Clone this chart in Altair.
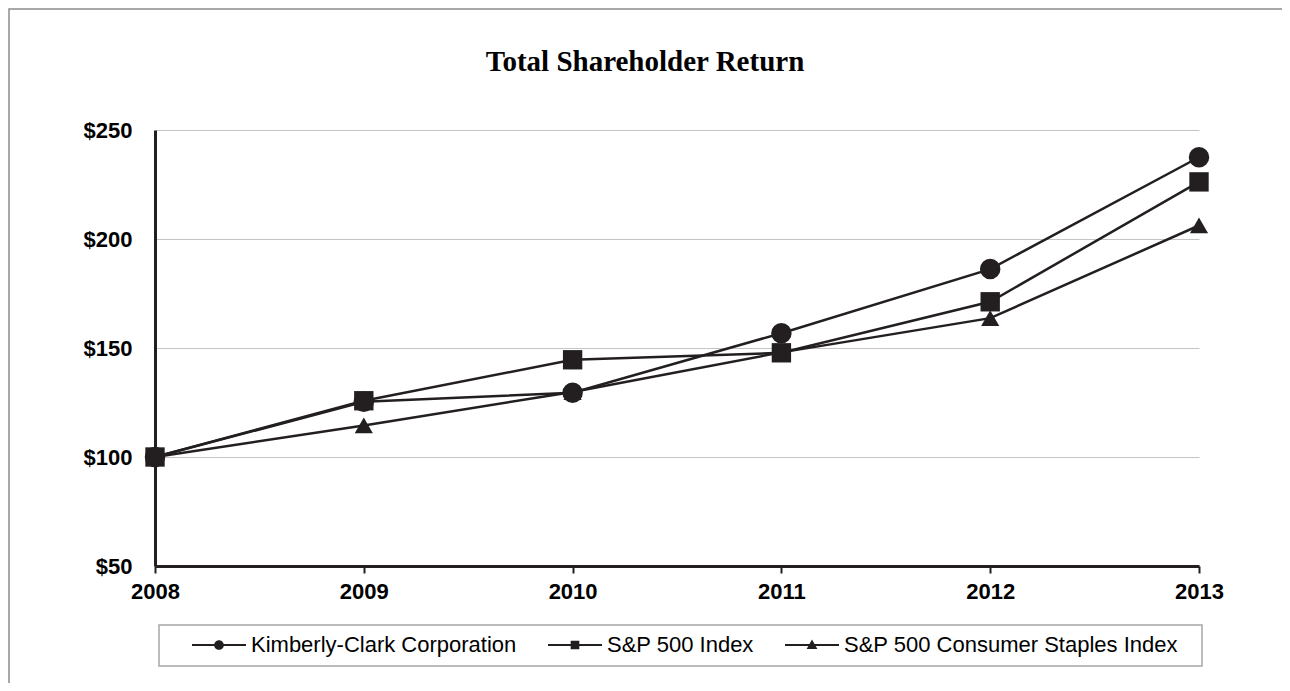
import altair as alt
import pandas as pd

# ---- data ----
years = [2008, 2009, 2010, 2011, 2012, 2013]
series_names = ["Kimberly-Clark Corporation", "S&P 500 Index", "S&P 500 Consumer Staples Index"]
kimberly_clark = [100, 125.3, 129.5, 156.8, 186.2, 237.5]
sp500 = [100, 125.8, 144.6, 147.8, 171.2, 226.2]
consumer_staples = [100, 114.5, 129.8, 148.0, 163.7, 206.2]
y_ticks = [50, 100, 150, 200, 250]
chart_title = "Total Shareholder Return"

rows = []
for name, vals in zip(series_names, [kimberly_clark, sp500, consumer_staples]):
    for yr, v in zip(years, vals):
        rows.append({"year": yr, "value": v, "series": name})
df = pd.DataFrame(rows)

INK = "#231f20"
W, H = 1044, 436
PAD = {"left": 147, "top": 122, "right": 83, "bottom": 117}

x_enc = alt.X("year:Q", scale=alt.Scale(domain=[years[0], years[-1]], nice=False, zero=False),
              axis=alt.Axis(values=years, format="d", grid=False, title=None,
                            tickSize=7, tickWidth=2, tickColor=INK,
                            domainColor=INK, domainWidth=3, labelPadding=8,
                            labelFlush=False))
y_enc = alt.Y("value:Q", scale=alt.Scale(domain=[y_ticks[0], y_ticks[-1]], nice=False, zero=False),
              axis=alt.Axis(values=y_ticks, labelExpr="'$' + datum.value", title=None,
                            grid=True, gridColor="#c4c4c4", gridWidth=1, ticks=False,
                            domainColor=INK, domainWidth=3, labelPadding=23))

lines = alt.Chart(df).mark_line(color=INK, strokeWidth=2.5).encode(
    x=x_enc, y=y_enc, detail="series:N", order="year:Q")

points = alt.Chart(df).mark_point(filled=True, opacity=1, color=INK).encode(
    x="year:Q", y="value:Q",
    shape=alt.Shape("series:N", scale=alt.Scale(domain=series_names,
                    range=["circle", "square", "triangle-up"]), legend=None),
    size=alt.Size("series:N", scale=alt.Scale(domain=series_names, range=[420, 330, 340]), legend=None),
)

# legend symbols: short bar (the line) with a marker in the middle, all filled
BAR = "M-1,-0.04H1V0.04H-1Z"
legend_paths = [
    BAR + "M-0.18,0A0.18,0.18,0,1,1,0.18,0A0.18,0.18,0,1,1,-0.18,0Z",
    BAR + "M-0.16,-0.16L0.16,-0.16L0.16,0.16L-0.16,0.16Z",
    BAR + "M0,-0.2L0.2,0.15L-0.2,0.15Z",
]
legend_layer = alt.Chart(df).transform_filter("false").mark_point(
    filled=True, opacity=1, color=INK, size=2916).encode(
    x="year:Q", y="value:Q",
    shape=alt.Shape("series:N", scale=alt.Scale(domain=series_names, range=legend_paths),
                    legend=alt.Legend(title=None, orient="none", legendX=37, legendY=488,
                                      direction="horizontal", labelFont="Liberation Sans",
                                      labelFontSize=22, labelColor="black", labelOffset=5,
                                      labelLimit=500, columnPadding=31, padding=0,
                                      symbolSize=2916, symbolStrokeWidth=0,
                                      symbolFillColor=INK, symbolOpacity=1)),
)

title_df = pd.DataFrame({"t": [chart_title]})
title = alt.Chart(title_df).mark_text(font="Liberation Serif", fontWeight="bold", fontSize=29,
                                      color="black", baseline="middle", align="center").encode(
    text="t:N", x=alt.value(490), y=alt.value(-68))

# outer frame (only its left and top edges fall inside the canvas) and the legend box
box_df = pd.DataFrame({"k": ["frame", "legend"]})
frame = alt.Chart(box_df).transform_filter("datum.k == 'frame'").mark_rect(
    fillOpacity=0, stroke="#8c8c8c", strokeWidth=1.5).encode(
    x=alt.value(-146), x2=alt.value(W + PAD["right"] + 20), y=alt.value(-121),
    y2=alt.value(H + PAD["bottom"] + 20))
legend_box = alt.Chart(box_df).transform_filter("datum.k == 'legend'").mark_rect(
    fillOpacity=0, stroke="#a6a6a6", strokeWidth=1.5).encode(
    x=alt.value(4), x2=alt.value(1047), y=alt.value(495), y2=alt.value(536))

chart = alt.layer(lines, points, legend_layer, title, frame, legend_box).resolve_scale(
    shape="independent", size="independent"
).properties(
    width=W, height=H, padding=PAD, autosize=alt.AutoSizeParams(type="none"),
    background="white"
).configure_view(stroke=None).configure_axis(
    labelFont="Liberation Sans", labelFontWeight="bold", labelFontSize=22, labelColor="black"
)

chart.save("out.html", embed_options={"renderer": "svg", "actions": False})
